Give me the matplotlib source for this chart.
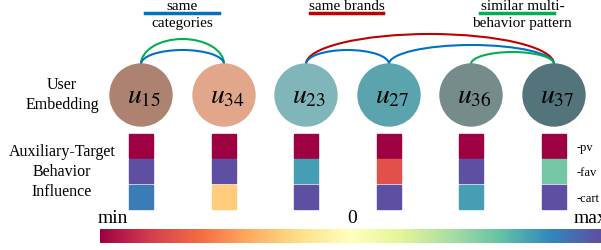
import matplotlib.pyplot as plt
from matplotlib.patches import Circle, Rectangle, Arc
import numpy as np

plt.rcParams['font.family'] = ['Liberation Serif', 'DejaVu Serif']
plt.rcParams['mathtext.fontset'] = 'stix'

# users and their embedding colours
users = ['15', '34', '23', '27', '36', '37']
user_colors = ['#ad8270', '#e2a68a', '#80b6b9', '#5ca4ad', '#768c8a', '#52747a']

# auxiliary-target influence, scaled 0 (min) .. 1 (max) on Spectral
pv = [0.0, 0.0, 0.0, 0.0, 0.0, 0.0]
fav = [1.0, 1.0, 0.86, 0.14, 1.0, 0.78]
cart = [0.92, 0.36, 1.0, 1.0, 0.86, 1.0]
behaviors = ['-pv', '-fav', '-cart']

# relations: (user a, user b, colour, peak height)
links = [(0, 1, '#00b050', 25), (0, 1, '#0070c0', 14),
         (2, 5, '#c00000', 30), (2, 3, '#0070c0', 14),
         (3, 5, '#0070c0', 19), (4, 5, '#00b050', 12)]

cmap = plt.get_cmap('Spectral')

fig = plt.figure(figsize=(6.01, 2.51), dpi=100)
ax = fig.add_axes([0, 0, 1, 1])
ax.set_xlim(0, 601)
ax.set_ylim(251, 0)
ax.axis('off')

xs = [141, 224, 306, 389, 471, 554]
cy, r = 96, 31

for (a, b, c, h) in links:
    x0, x1 = xs[a], xs[b]
    ax.add_patch(Arc(((x0 + x1) / 2, cy - r), x1 - x0, 2 * h, theta1=180, theta2=360,
                     color=c, lw=1.5, zorder=1))

for i, u in enumerate(users):
    ax.add_patch(Circle((xs[i], cy), r, color=user_colors[i], zorder=2))
    ax.text(xs[i] + 3, cy + 1, r'$u_{%s}$' % u, fontsize=20, ha='center', va='center', zorder=3)

rows = [pv, fav, cart]
ys = [135, 160, 186]
for j, vals in enumerate(rows):
    for i, v in enumerate(vals):
        ax.add_patch(Rectangle((xs[i] - 12, ys[j]), 24, 24, color=cmap(v)))
for j, b in enumerate(behaviors):
    ax.text(577, ys[j] + 13, b, fontsize=9, va='center', ha='left')

ax.text(62, 95, 'User\nEmbedding', fontsize=11.5, ha='center', va='center', linespacing=1.3)
ax.text(62, 172, 'Auxiliary-Target\nBehavior\nInfluence', fontsize=11.5, ha='center', va='center',
        linespacing=1.3)

# colour bar
grad = np.linspace(0, 1, 256).reshape(1, -1)
ax.imshow(grad, cmap=cmap, extent=[100, 601, 244, 230], aspect='auto')
ax.text(113, 219, 'min', fontsize=14, ha='center', va='center')
ax.text(352, 219, '0', fontsize=14, ha='center', va='center')
ax.text(590, 219, 'max', fontsize=14, ha='center', va='center')

# legend for relation colours
ax.text(182, 7, 'same', fontsize=11, ha='center', va='center')
ax.plot([145, 219], [14, 14], color='#0070c0', lw=2.5)
ax.text(182, 24, 'categories', fontsize=11, ha='center', va='center')
ax.text(347, 6, 'same brands', fontsize=11, ha='center', va='center')
ax.plot([310, 383], [14, 14], color='#c00000', lw=2.5)
ax.text(523, 6, 'similar multi-', fontsize=11, ha='center', va='center')
ax.plot([480, 554], [14, 14], color='#00b050', lw=2.5)
ax.text(522, 24, 'behavior pattern', fontsize=11, ha='center', va='center')

fig.savefig('out.png', dpi=100)
